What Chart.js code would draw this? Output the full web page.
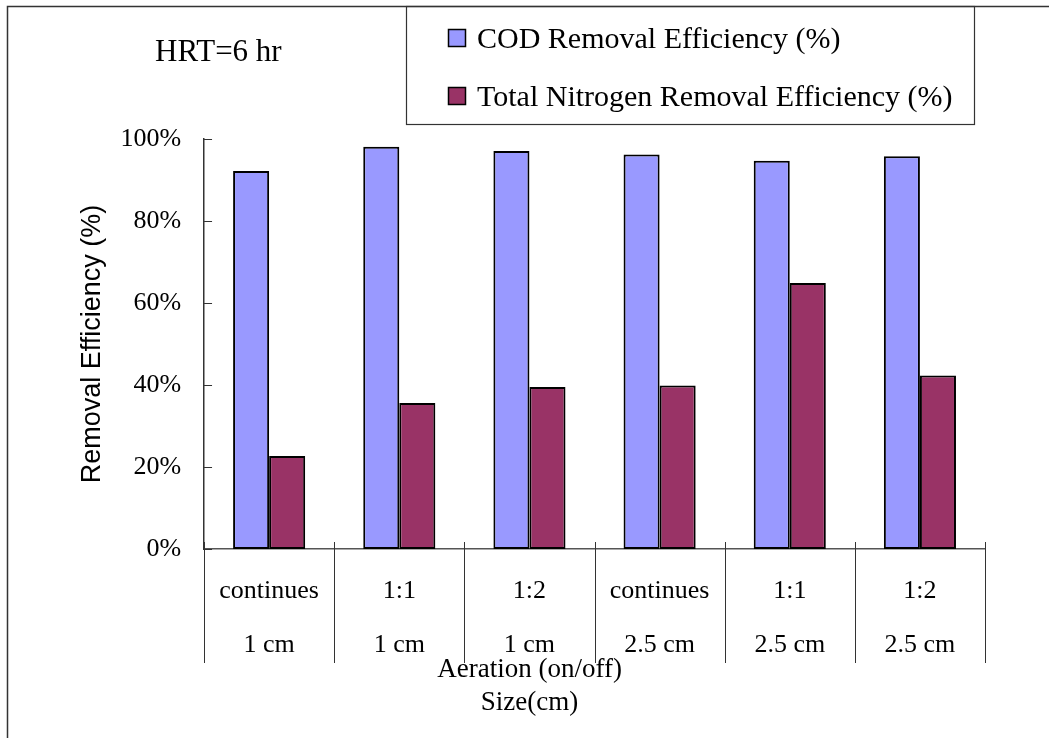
<!DOCTYPE html>
<html>
<head>
<meta charset="utf-8">
<title>Removal Efficiency - HRT=6 hr</title>
<script src="https://cdn.jsdelivr.net/npm/chart.js@4/dist/chart.umd.min.js"></script>
<style>
    html, body { margin: 0; padding: 0; background: #fff; }
    #wrap { width: 1049px; height: 738px; }
</style>
</head>
<body>
<div id="wrap"><canvas id="removalChart" width="1049" height="738"></canvas></div>
<script>
// aeration mode (on/off) and media size per run
const aeration = ['continues', '1:1', '1:2', 'continues', '1:1', '1:2'];
const mediaSize = ['1 cm', '1 cm', '1 cm', '2.5 cm', '2.5 cm', '2.5 cm'];

// removal efficiencies in %
const codRemoval = [92.2, 98.1, 97.1, 96.2, 94.7, 95.8];
const tnRemoval = [22.7, 35.6, 39.5, 39.9, 64.9, 42.3];

const yTicks = [0, 20, 40, 60, 80, 100];

const SERIF = "'Liberation Serif', 'Times New Roman', serif";
const SANS = "'Liberation Sans', Arial, sans-serif";

Chart.defaults.font.family = SERIF;
Chart.defaults.color = '#000';

// frame, legend box, HRT note, inner ticks, category dividers, x title
const decorations = {
    id: 'decorations',
    afterDraw(chart) {
        const ctx = chart.ctx;
        const area = chart.chartArea;
        const x = chart.scales.x;
        const y = chart.scales.y;

        ctx.save();

        // outer frame (top and left edges)
        ctx.strokeStyle = '#333';
        ctx.lineWidth = 1.5;
        ctx.beginPath();
        ctx.moveTo(7.5, chart.height);
        ctx.lineTo(7.5, 6.5);
        ctx.lineTo(chart.width, 6.5);
        ctx.stroke();

        // HRT note
        ctx.fillStyle = '#000';
        ctx.font = '31px ' + SERIF;
        ctx.textAlign = 'left';
        ctx.textBaseline = 'alphabetic';
        ctx.fillText('HRT=6 hr', 155, 61);

        // legend box
        ctx.lineWidth = 1.2;
        ctx.strokeStyle = '#333';
        ctx.strokeRect(406.5, 6.5, 568, 118);
        ctx.font = '30px ' + SERIF;
        chart.data.datasets.forEach((ds, i) => {
            const cy = 38 + i * 58;
            ctx.fillStyle = ds.backgroundColor;
            ctx.fillRect(448, cy - 9, 18, 18);
            ctx.lineWidth = 1.5;
            ctx.strokeStyle = '#000';
            ctx.strokeRect(448.5, cy - 8.5, 17, 17);
            ctx.fillStyle = '#000';
            ctx.fillText(ds.label, 477, cy + 10);
        });

        // tick marks on the inside of the value axis
        ctx.strokeStyle = '#333';
        ctx.lineWidth = 1;
        ctx.beginPath();
        y.ticks.forEach(t => {
            const py = Math.round(y.getPixelForValue(t.value)) + 0.5;
            ctx.moveTo(area.left, py);
            ctx.lineTo(area.left + 8, py);
        });
        ctx.stroke();

        // dividers between categories, running through the label rows
        const n = x.ticks.length;
        const bounds = [];
        for (let i = 0; i <= n; i++) {
            if (i === 0) bounds.push(area.left);
            else if (i === n) bounds.push(area.right);
            else bounds.push((x.getPixelForTick(i - 1) + x.getPixelForTick(i)) / 2);
        }
        ctx.beginPath();
        bounds.forEach(bx => {
            const px = Math.round(bx) + 0.5;
            ctx.moveTo(px, area.bottom - 7);
            ctx.lineTo(px, area.bottom + 114);
        });
        ctx.stroke();

        // category axis title
        ctx.fillStyle = '#000';
        ctx.font = '27px ' + SERIF;
        ctx.textAlign = 'center';
        const tx = (area.left + area.right) / 2 - 65;
        ctx.fillText('Aeration (on/off)', tx, 677);
        ctx.fillText('Size(cm)', tx, 710);

        ctx.restore();
    }
};

const ctx = document.getElementById('removalChart').getContext('2d');
new Chart(ctx, {
    type: 'bar',
    data: {
        labels: aeration.map((a, i) => [a, mediaSize[i]]),
        datasets: [
            {
                label: 'COD Removal Efficiency (%)',
                data: codRemoval,
                backgroundColor: '#9999FF',
                borderColor: '#000',
                borderWidth: 2,
                borderSkipped: false
            },
            {
                label: 'Total Nitrogen Removal Efficiency (%)',
                data: tnRemoval,
                backgroundColor: '#993366',
                borderColor: '#000',
                borderWidth: 2,
                borderSkipped: false
            }
        ]
    },
    options: {
        responsive: false,
        animation: false,
        devicePixelRatio: 1,
        layout: {
            padding: { top: 139, right: 64, bottom: 51, left: 72 }
        },
        datasets: {
            bar: {
                categoryPercentage: 0.554,
                barPercentage: 1
            }
        },
        plugins: {
            legend: { display: false },
            tooltip: { enabled: false }
        },
        scales: {
            x: {
                grid: { display: false, drawTicks: false },
                border: { display: true, color: '#555', width: 1.5 },
                ticks: {
                    padding: 15,
                    maxRotation: 0,
                    autoSkip: false,
                    font: { size: 26, lineHeight: '54px' }
                }
            },
            y: {
                min: 0,
                max: 100,
                afterBuildTicks(scale) {
                    scale.ticks = yTicks.map(v => ({ value: v }));
                },
                grid: { display: false, drawTicks: false },
                border: { display: true, color: '#333', width: 1.5 },
                ticks: {
                    padding: 23,
                    font: { size: 26 },
                    callback: v => v + '%'
                },
                title: {
                    display: true,
                    text: 'Removal Efficiency (%)',
                    font: { family: SANS, size: 27 },
                    padding: { top: 4, bottom: -11 }
                }
            }
        }
    },
    plugins: [decorations]
});
</script>
</body>
</html>
